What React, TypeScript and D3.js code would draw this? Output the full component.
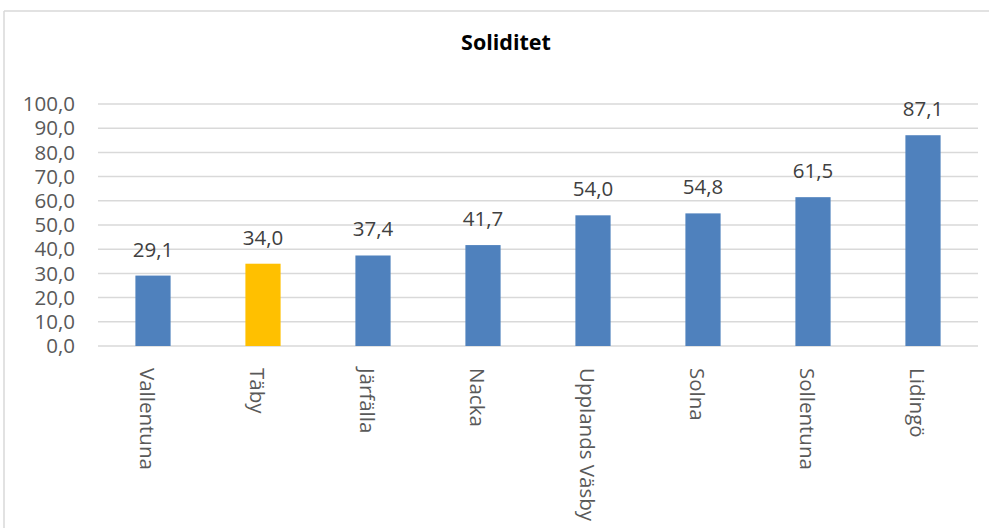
import React from "react";
import * as d3 from "d3";

const categories = ["Vallentuna", "Täby", "Järfälla", "Nacka", "Upplands Väsby", "Solna", "Sollentuna", "Lidingö"];
const values = [29.1, 34.0, 37.4, 41.7, 54.0, 54.8, 61.5, 87.1];
const highlight = "Täby";
const yTicks = [0, 10, 20, 30, 40, 50, 60, 70, 80, 90, 100];
const title = "Soliditet";

const W = 989;
const H = 528;
const FONT = "'Open Sans', 'DejaVu Sans', sans-serif";

export default function App() {
  const x = d3.scaleBand<string>().domain(categories).range([98, 978]).paddingInner(0.68).paddingOuter(0.34);
  const y = d3.scaleLinear().domain([0, 100]).range([346, 104]);
  const fmt = (v: number) => v.toFixed(1).replace(".", ",");
  return (
    <div style={{ position: "absolute", left: 0, top: 0 }}>
      <svg width={W} height={H} style={{ display: "block", background: "#fff" }}>
        <line x1={4} y1={11} x2={W} y2={11} stroke="#d9d9d9" strokeWidth={1.5} />
        <line x1={4} y1={11} x2={4} y2={H} stroke="#d9d9d9" strokeWidth={1.5} />
        <text x={506} y={50} textAnchor="middle" fontFamily={FONT} fontWeight="bold" fontSize={21.5} fill="#000">
          {title}
        </text>
        {yTicks.map((t) => (
          <g key={t}>
            <line x1={98} x2={978} y1={y(t)} y2={y(t)} stroke="#d9d9d9" strokeWidth={1.5} />
            <text x={75} y={y(t)} dy="0.35em" textAnchor="end" fontFamily={FONT} fontSize={20.5} fill="#595959">
              {fmt(t)}
            </text>
          </g>
        ))}
        {categories.map((c, i) => {
          const bx = x(c)!;
          const bw = x.bandwidth();
          const cx = bx + bw / 2;
          return (
            <g key={c}>
              <rect x={bx} y={y(values[i])} width={bw} height={y(0) - y(values[i])} fill={c === highlight ? "#FFC000" : "#4F81BD"} />
              <text x={cx} y={y(values[i]) - 19} textAnchor="middle" fontFamily={FONT} fontSize={20.5} fill="#404040">
                {fmt(values[i])}
              </text>
              <text
                transform={`translate(${cx - 5},368) rotate(90)`}
                dominantBaseline="central"
                textAnchor="start"
                fontFamily={FONT}
                fontSize={20.5}
                fill="#595959"
              >
                {c}
              </text>
            </g>
          );
        })}
      </svg>
    </div>
  );
}
